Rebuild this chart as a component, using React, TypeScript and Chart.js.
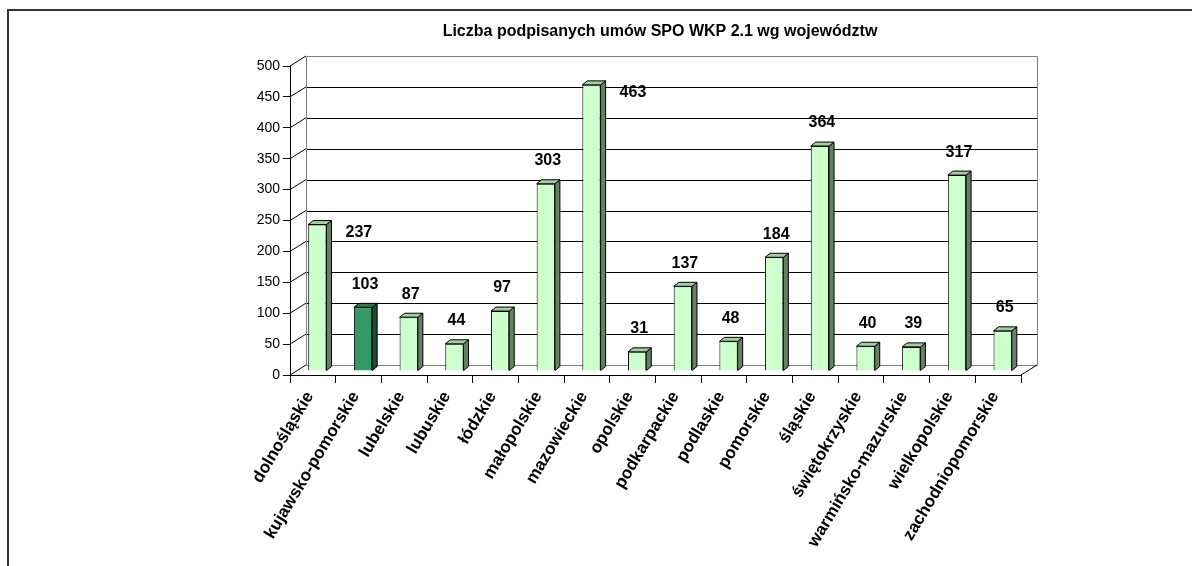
import React, { useEffect, useRef } from 'react';
import { Chart, registerables } from 'chart.js';

Chart.register(...registerables);

const title = 'Liczba podpisanych umów SPO WKP 2.1 wg województw';
const categories = [
  'dolnośląskie', 'kujawsko-pomorskie', 'lubelskie', 'lubuskie', 'łódzkie', 'małopolskie',
  'mazowieckie', 'opolskie', 'podkarpackie', 'podlaskie', 'pomorskie', 'śląskie',
  'świętokrzyskie', 'warmińsko-mazurskie', 'wielkopolskie', 'zachodniopomorskie',
];
const values = [237, 103, 87, 44, 97, 303, 463, 31, 137, 48, 184, 364, 40, 39, 317, 65];
const highlightIndex = 1;
const labelSide = [
  'right', 'above', 'above', 'above', 'above', 'above', 'right', 'above',
  'above', 'above', 'above', 'above', 'above', 'above', 'above', 'above',
];
const yMin = 0;
const yMax = 500;
const yStep = 50;

const FONT = '"Liberation Sans", Arial, sans-serif';
const LIGHT = { front: '#CCFFCC', top: '#A3CCA3', side: '#668066' };
const DARK = { front: '#339966', top: '#2A7A52', side: '#1A4D33' };
const DX = 16, DY = -10;       // back wall offset
const BX = 4.5, BY = -4;       // bar front offset from front plane
const BD = 5, BDY = -4;        // bar depth

const crisp = (v: number) => Math.round(v) + 0.5;

const threeD = {
  id: 'threeD',
  beforeDatasetsDraw(chart: any) {
    const { ctx, chartArea } = chart;
    const ys = chart.scales.y;
    const L = chartArea.left, R = chartArea.right;
    ctx.save();
    ctx.lineWidth = 1;
    for (let v = yMin; v <= yMax; v += yStep) {
      const py = ys.getPixelForValue(v);
      const by = crisp(py + DY);
      ctx.strokeStyle = v === yMax || v === yMin ? '#808080' : '#000000';
      ctx.beginPath();
      ctx.moveTo(crisp(L + DX), by);
      ctx.lineTo(crisp(R + DX), by);
      ctx.stroke();
      ctx.strokeStyle = '#000000';
      ctx.beginPath();
      ctx.moveTo(L, py);
      ctx.lineTo(L + DX, py + DY);
      ctx.stroke();
    }
    const topY = ys.getPixelForValue(yMax) + DY;
    const botY = ys.getPixelForValue(yMin) + DY;
    ctx.strokeStyle = '#808080';
    ctx.beginPath();
    ctx.moveTo(crisp(L + DX), crisp(topY));
    ctx.lineTo(crisp(L + DX), crisp(botY));
    ctx.moveTo(crisp(R + DX), crisp(topY));
    ctx.lineTo(crisp(R + DX), crisp(botY));
    ctx.stroke();
    const fy = ys.getPixelForValue(yMin);
    ctx.strokeStyle = '#000000';
    ctx.beginPath();
    ctx.moveTo(R, fy);
    ctx.lineTo(R + DX, fy + DY);
    ctx.stroke();
    ctx.restore();

    ctx.save();
    ctx.translate(BX, BY);
  },
  afterDatasetsDraw(chart: any) {
    const { ctx } = chart;
    ctx.restore();
    const meta = chart.getDatasetMeta(0);
    ctx.save();
    ctx.lineWidth = 1;
    ctx.strokeStyle = '#000000';
    meta.data.forEach((el: any, i: number) => {
      const pal = i === highlightIndex ? DARK : LIGHT;
      const left = el.x - el.width / 2 + BX;
      const right = el.x + el.width / 2 + BX;
      const top = el.y + BY;
      const bottom = el.base + BY;
      ctx.fillStyle = pal.side;
      ctx.beginPath();
      ctx.moveTo(right, top);
      ctx.lineTo(right + BD, top + BDY);
      ctx.lineTo(right + BD, bottom + BDY);
      ctx.lineTo(right, bottom);
      ctx.closePath();
      ctx.fill();
      ctx.stroke();
      ctx.fillStyle = pal.top;
      ctx.beginPath();
      ctx.moveTo(left, top);
      ctx.lineTo(left + BD, top + BDY);
      ctx.lineTo(right + BD, top + BDY);
      ctx.lineTo(right, top);
      ctx.closePath();
      ctx.fill();
      ctx.stroke();
    });
    ctx.restore();
  },
  afterDraw(chart: any) {
    const { ctx } = chart;
    const meta = chart.getDatasetMeta(0);
    ctx.save();
    ctx.fillStyle = '#000000';
    ctx.font = `bold 16px ${FONT}`;
    ctx.textBaseline = 'middle';
    meta.data.forEach((el: any, i: number) => {
      const text = String(values[i]);
      const cx = el.x + BX;
      const top = el.y + BY;
      if (labelSide[i] === 'right') {
        ctx.textAlign = 'left';
        ctx.fillText(text, el.x + el.width / 2 + BX + BD + 14, top + 8);
      } else {
        ctx.textAlign = 'center';
        ctx.fillText(text, cx + 2, top - 23);
      }
    });
    ctx.textAlign = 'center';
    ctx.font = `bold 16px ${FONT}`;
    ctx.fillText(title, 660, 32);
    ctx.restore();
  },
};

export default function App() {
  const ref = useRef<HTMLCanvasElement | null>(null);
  useEffect(() => {
    if (!ref.current) return;
    document.body.style.overflow = 'hidden';
    const chart = new Chart(ref.current, {
      type: 'bar',
      data: {
        labels: categories,
        datasets: [
          {
            data: values,
            backgroundColor: values.map((_, i) => (i === highlightIndex ? DARK.front : LIGHT.front)),
            borderColor: '#000000',
            borderWidth: 1,
            barPercentage: 0.4,
            categoryPercentage: 1,
          },
        ],
      },
      options: {
        responsive: false,
        animation: false,
        layout: { padding: { left: 0, right: 171, top: 66, bottom: 11 } },
        plugins: { legend: { display: false }, tooltip: { enabled: false }, title: { display: false } },
        scales: {
          x: {
            afterFit: (s: any) => { s.height = 180; },
            grid: { offset: true, drawOnChartArea: false, drawTicks: true, tickLength: 8, color: '#000000' },
            border: { display: true, color: '#000000', width: 1 },
            ticks: {
              autoSkip: false, minRotation: 59, maxRotation: 59, padding: 5, labelOffset: -3,
              color: '#000000', font: { family: FONT, size: 17, weight: 'bold' },
            },
          },
          y: {
            min: yMin, max: yMax,
            afterFit: (s: any) => { s.width = 290; },
            grid: { drawOnChartArea: false, drawTicks: true, tickLength: 7, color: '#000000' },
            border: { display: true, color: '#000000', width: 1 },
            ticks: { stepSize: yStep, padding: 3, color: '#000000', font: { family: FONT, size: 14 } },
          },
        },
      },
      plugins: [threeD],
    });
    return () => chart.destroy();
  }, []);
  return (
    <>
      <div
        style={{
          position: 'fixed', left: 7, top: 9, width: 1400, height: 800,
          borderLeft: '2px solid #333', borderTop: '2px solid #333', boxSizing: 'border-box',
        }}
      />
      <canvas
        ref={ref}
        width={1192}
        height={566}
        style={{ position: 'fixed', left: 0, top: 0, width: 1192, height: 566, display: 'block' }}
      />
    </>
  );
}
